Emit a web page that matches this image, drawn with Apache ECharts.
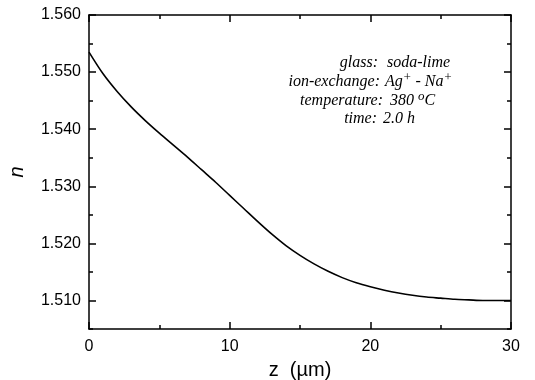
<!DOCTYPE html>
<html><head><meta charset="utf-8">
<script src="https://cdn.jsdelivr.net/npm/echarts@6/dist/echarts.min.js"></script>
<style>html,body{margin:0;padding:0;background:#fff}#c{width:535px;height:380px}</style>
</head><body><div id="c"></div>
<script>
const zValues = [0,1,2,3,4,5,6,7,8,9,10,11,12,13,14,15,16,17,18,19,20,21,22,23,24,25,26,27,28,29,30];
const nValues = [1.5535,1.5497,1.5466,1.5439,1.5415,1.5393,1.5372,1.5351,1.5329,1.5307,1.5284,1.5261,1.5238,1.5216,1.5196,1.5179,1.5164,1.5151,1.5140,1.5131,1.5124,1.5118,1.5113,1.5109,1.5106,1.5104,1.5102,1.5101,1.5100,1.5100,1.5100];
const xTicks = [0,10,20,30];
const yTicks = [1.510,1.520,1.530,1.540,1.550,1.560];

const chart = echarts.init(document.getElementById('c'));
const black = {color:'#000', width:1.5};
const gridRect = {left:89, right:24, top:15, bottom:51, outerBoundsMode:'none'};
const xCommon = {type:'value', gridIndex:0, min:0, max:30, interval:10,
  axisLine:{show:true, onZero:false, lineStyle:black}, splitLine:{show:false},
  axisTick:{show:true, inside:true, length:7, lineStyle:black},
  minorTick:{show:true, splitNumber:2, length:4, lineStyle:black}};
const yMajor = {type:'value', gridIndex:0, min:1.505, max:1.560, interval:0.005,
  axisLine:{show:true, onZero:false, lineStyle:black}, splitLine:{show:false},
  axisTick:{show:true, inside:true, length:7, lineStyle:black, customValues:yTicks}};
const yMinor = {type:'value', gridIndex:1, min:1.505, max:1.560, interval:0.005,
  axisLine:{show:false, onZero:false}, splitLine:{show:false}, axisLabel:{show:false},
  axisTick:{show:true, inside:true, length:4, lineStyle:black}};
const txt = (x, y, text, align) => ({type:'text', x, y, style:{text, textAlign:align, textVerticalAlign:'middle', font:'italic 16px "Liberation Serif"', fill:'#000'}});
const supRich = {s:{fontFamily:'Liberation Serif', fontStyle:'italic', fontSize:13, verticalAlign:'top', padding:[0,0,9,0], fill:'#000'}, n:{fontFamily:'Liberation Serif', fontStyle:'italic', fontSize:16, fill:'#000'}};

chart.setOption({
  animation:false,
  grid:[Object.assign({}, gridRect), Object.assign({}, gridRect)],
  xAxis:[
    Object.assign({}, xCommon, {position:'bottom',
      name:'z  (\u00b5m)', nameLocation:'middle', nameGap:31,
      nameTextStyle:{fontFamily:'Liberation Sans', fontSize:20, color:'#000'},
      axisLabel:{fontFamily:'Liberation Sans', fontSize:16, color:'#000', margin:10,
        formatter:v => xTicks.includes(v) ? String(v) : ''}}),
    Object.assign({}, xCommon, {position:'top', axisLabel:{show:false}}),
    {type:'value', gridIndex:1, min:0, max:30, show:false}
  ],
  yAxis:[
    Object.assign({}, yMajor, {position:'left',
      name:'n', nameLocation:'middle', nameGap:62, nameRotate:90,
      nameTextStyle:{fontFamily:'Liberation Sans', fontStyle:'italic', fontSize:20, color:'#000'},
      axisLabel:{fontFamily:'Liberation Sans', fontSize:16, color:'#000', margin:8,
        customValues:yTicks, formatter:v => v.toFixed(3)}}),
    Object.assign({}, yMajor, {position:'right', axisLabel:{show:false}}),
    Object.assign({}, yMinor, {position:'left'}),
    Object.assign({}, yMinor, {position:'right'})
  ],
  series:[{type:'line', xAxisIndex:0, yAxisIndex:0, smooth:0.3, symbol:'none',
    lineStyle:{color:'#000', width:1.6},
    data:zValues.map((z,i)=>[z,nValues[i]])}],
  graphic:[
    txt(378, 63, 'glass:', 'right'),
    txt(387, 63, 'soda-lime', 'left'),
    txt(380, 82, 'ion-exchange:', 'right'),
    {type:'text', x:385, y:82, style:{text:'{n|Ag}{s|+}{n| - Na}{s|+}', textAlign:'left', textVerticalAlign:'middle', rich:supRich}},
    txt(383, 101, 'temperature:', 'right'),
    {type:'text', x:390, y:101, style:{text:'{n|380 }{s|o}{n|C}', textAlign:'left', textVerticalAlign:'middle', rich:supRich}},
    txt(377, 119, 'time:', 'right'),
    txt(383, 119, '2.0 h', 'left')
  ]
});
</script></body></html>
